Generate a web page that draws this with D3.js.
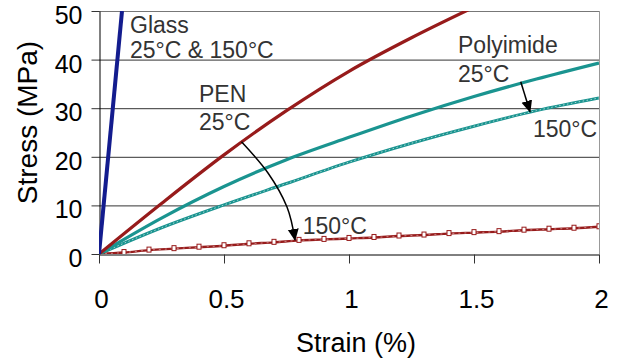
<!DOCTYPE html>
<html>
<head>
<meta charset="utf-8">
<script src="https://cdn.jsdelivr.net/npm/d3@7/dist/d3.min.js"></script>
<style>
  html, body { margin: 0; padding: 0; background: #fff; }
  svg { display: block; font-family: "Liberation Sans", Arial, sans-serif; }
</style>
</head>
<body>
<svg id="chart" width="619" height="364"></svg>
<script>
// ---- data (strain %, stress MPa) ----
const xTicks = [0, 0.5, 1, 1.5, 2];
const yTicks = [0, 10, 20, 30, 40, 50];

const glass = [[0, 0], [0.092, 50]];
const pen25 = [[0,0],[0.25,10.4],[0.5,20.4],[0.75,29.5],[1.0,37.6],[1.25,44.5],[1.5,50.8]];
const pen150 = [[0,0],[0.1,0.3],[0.2,0.8],[0.3,1.1],[0.4,1.4],[0.5,1.7],[0.6,2.1],[0.7,2.4],[0.8,2.8],[0.9,3.0],[1.0,3.2],[1.1,3.4],[1.2,3.7],[1.3,3.9],[1.4,4.2],[1.5,4.4],[1.6,4.6],[1.7,4.9],[1.8,5.1],[1.9,5.3],[2.0,5.6]];
const pi25 = [[0,0],[0.25,7.4],[0.5,13.9],[0.75,19.4],[1.0,24.0],[1.25,28.4],[1.5,32.4],[1.75,36.0],[2.0,39.3]];
const pi150 = [[0,0],[0.25,5.4],[0.5,10.1],[0.75,14.5],[1.0,18.9],[1.25,22.8],[1.5,26.3],[1.75,29.5],[2.0,32.1]];

const labels = [
  {t: "Glass", x: 0.124, y: 45.47},
  {t: "25°C & 150°C", x: 0.124, y: 40.33},
  {t: "PEN", x: 0.40, y: 31.34},
  {t: "25°C", x: 0.40, y: 25.51},
  {t: "Polyimide", x: 1.436, y: 41.36},
  {t: "25°C", x: 1.436, y: 35.39},
  {t: "150°C", x: 1.736, y: 24.07},
  {t: "150°C", x: 0.815, y: 4.12}
];
const arrowPen = [[0.57, 23.1], [0.676, 16.67], [0.752, 9.67], [0.784, 2.88]];
const arrowPi = [[1.687, 35.45], [1.724, 29.28]];

// ---- layout ----
const svg = d3.select("#chart");
const L = 99, T = 11, W = 500, H = 243;
const x = d3.scaleLinear().domain([0, 2]).range([L, L + W]);
const y = d3.scaleLinear().domain([0, 50]).range([T + H, T]);

const defs = svg.append("defs");
defs.append("clipPath").attr("id", "clip")
  .append("rect").attr("x", L).attr("y", T).attr("width", W).attr("height", H);
defs.append("marker").attr("id", "ah")
  .attr("markerUnits", "userSpaceOnUse")
  .attr("viewBox", "0 0 12 12").attr("refX", 11).attr("refY", 6)
  .attr("markerWidth", 12).attr("markerHeight", 12).attr("orient", "auto")
  .append("path").attr("d", "M0,0.5 L12,6 L0,11.5 Z").attr("fill", "#000");

// gridlines
svg.append("g").selectAll("line").data(yTicks.filter(d => d > 0)).join("line")
  .attr("x1", L).attr("x2", L + W)
  .attr("y1", d => y(d) + 0.5).attr("y2", d => y(d) + 0.5)
  .attr("stroke", d => d === 50 ? "#777" : "#333").attr("stroke-width", 1);
// right border
svg.append("line").attr("x1", L + W + 0.5).attr("x2", L + W + 0.5)
  .attr("y1", T).attr("y2", T + H).attr("stroke", "#999");

// axes
const xa = svg.append("g").attr("transform", `translate(0,${T + H + 0.5})`)
  .call(d3.axisBottom(x).tickValues(xTicks).tickFormat(d3.format("")).tickSizeInner(9).tickSizeOuter(0).tickPadding(26));
const ya = svg.append("g").attr("transform", `translate(${L + 0.5},0)`)
  .call(d3.axisLeft(y).tickValues(yTicks).tickSizeInner(8).tickSizeOuter(0).tickPadding(9));
[xa, ya].forEach(g => {
  g.select(".domain").attr("stroke", "#000");
  g.selectAll(".tick line").attr("stroke", "#333");
  g.selectAll(".tick text").attr("font-size", 26).attr("fill", "#000")
    .attr("font-family", "'Liberation Sans', Arial, sans-serif");
});
xa.selectAll(".tick text").attr("dx", 2);
ya.selectAll(".tick text").attr("font-size", 25).attr("dy", "0.5em");

// titles
svg.append("text").attr("x", 356).attr("y", 352).attr("text-anchor", "middle")
  .attr("font-size", 27).attr("fill", "#000").text("Strain (%)");
svg.append("text").attr("transform", "translate(37,122.5) rotate(-90)")
  .attr("text-anchor", "middle").attr("font-size", 28).attr("fill", "#000").text("Stress (MPa)");

// series
const plot = svg.append("g").attr("clip-path", "url(#clip)");
const line = d3.line().x(d => x(d[0])).y(d => y(d[1])).curve(d3.curveMonotoneX);

const teal = "#1a9490", red = "#971b1b", blue = "#131c8e";

plot.append("path").datum(pen150).attr("d", line).attr("fill", "none")
  .attr("stroke", red).attr("stroke-width", 2.4);
plot.append("path").datum(pen150).attr("d", line).attr("fill", "none")
  .attr("stroke", "#d89a9a").attr("stroke-width", 0.8).attr("stroke-dasharray", "2,4");
plot.append("g").selectAll("rect").data(pen150.slice(1)).join("rect")
  .attr("x", d => x(d[0]) - 2).attr("y", d => y(d[1]) - 3)
  .attr("width", 4).attr("height", 5).attr("fill", "#fff").attr("stroke", red).attr("stroke-width", 1);

plot.append("path").datum(pi150).attr("d", line).attr("fill", "none")
  .attr("stroke", teal).attr("stroke-width", 3);
plot.append("path").datum(pi150).attr("d", line).attr("fill", "none")
  .attr("stroke", "#a8d6d3").attr("stroke-width", 1).attr("stroke-dasharray", "1.5,2.5");

plot.append("path").datum(pi25).attr("d", line).attr("fill", "none")
  .attr("stroke", teal).attr("stroke-width", 3.2);
plot.append("path").datum(pen25).attr("d", line).attr("fill", "none")
  .attr("stroke", red).attr("stroke-width", 3.2);
plot.append("path").datum(glass).attr("d", line).attr("fill", "none")
  .attr("stroke", blue).attr("stroke-width", 4);

// arrows
svg.append("path").datum(arrowPen)
  .attr("d", d3.line().x(d => x(d[0])).y(d => y(d[1])).curve(d3.curveCardinal))
  .attr("fill", "none").attr("stroke", "#000").attr("stroke-width", 1.5).attr("marker-end", "url(#ah)");
svg.append("path").datum(arrowPi)
  .attr("d", d3.line().x(d => x(d[0])).y(d => y(d[1])))
  .attr("fill", "none").attr("stroke", "#000").attr("stroke-width", 1.5).attr("marker-end", "url(#ah)");

// labels
svg.append("g").selectAll("text").data(labels).join("text")
  .attr("x", d => x(d.x)).attr("y", d => y(d.y))
  .attr("font-size", 23).attr("fill", "#333").text(d => d.t);
</script>
</body>
</html>
